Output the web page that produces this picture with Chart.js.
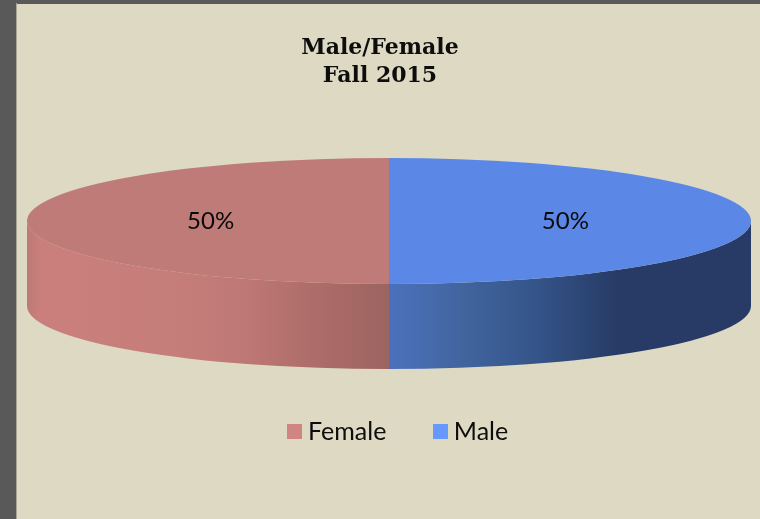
<!DOCTYPE html>
<html>
<head>
<meta charset="utf-8">
<style>html,body{margin:0;padding:0;background:#DDD9C3;overflow:hidden}canvas{display:block}</style>
<script src="https://cdn.jsdelivr.net/npm/chart.js@4/dist/chart.umd.js"></script>
</head>
<body>
<canvas id="c" width="760" height="519"></canvas>
<script>
const categories = ['Female', 'Male'];
const values = [50, 50];
const titleLines = ['Male/Female', 'Fall 2015'];
const topColors = ['#BF7B78', '#5B88E7'];
const legendColors = ['#D08583', '#6699FF'];
const wallStops = [
  [[0, '#BC7976'], [0.035, '#CA7F7C'], [0.4, '#C67E7A'], [0.6, '#BE7875'], [0.8, '#AD6C69'], [1, '#9C6460']],
  [[0, '#4B71BC'], [0.2, '#42659F'], [0.4, '#35558A'], [0.63, '#273B66'], [1, '#273B66']]
];
const SQUASH = 63 / 362, DEPTH = 85, LEGEND_GAP = 53;

function swatch(color) {
  const s = document.createElement('canvas');
  s.width = 15; s.height = 15;
  const g = s.getContext('2d');
  g.fillStyle = color; g.fillRect(0, 0, 15, 15);
  return s;
}

const pie3d = {
  id: 'pie3d',
  afterLayout(chart) {
    const a = chart.chartArea;
    a.left = 27; a.right = 751; a.top = 158; a.bottom = 284;
    a.width = 724; a.height = 126;
    const lg = chart.legend;
    const first = (lg.left + LEGEND_GAP + lg.right - lg.lineWidths[0]) / 2;
    const dx = 293.5 - first;
    lg.left += dx; lg.right += dx;
    lg.top = 419 - LEGEND_GAP; lg.bottom = lg.top + lg.height;
  },
  beforeDraw(chart) {
    const c = chart.ctx;
    c.save();
    c.fillStyle = '#595959';
    c.fillRect(0, 0, chart.width, chart.height);
    c.fillStyle = '#A8A697';
    c.fillRect(16, 3, 1, chart.height - 3);
    c.fillStyle = '#DDD9C3';
    c.fillRect(17, 4, chart.width - 17, chart.height - 4);
    c.restore();
  },
  beforeDatasetsDraw(chart) {
    const c = chart.ctx;
    const arcs = chart.getDatasetMeta(0).data;
    const cx = arcs[0].x, cy = arcs[0].y, rx = arcs[0].outerRadius, ry = rx * SQUASH;
    arcs.forEach((arc, i) => {
      [0, 2 * Math.PI].forEach(k => {
        const s = Math.max(arc.startAngle, k), e = Math.min(arc.endAngle, k + Math.PI);
        if (e <= s) return;
        const x0 = cx + rx * Math.cos(e), x1 = cx + rx * Math.cos(s);
        const g = c.createLinearGradient(x0, 0, x1, 0);
        const stops = wallStops[i];
        stops.forEach(st => g.addColorStop(st[0], st[1]));
        c.beginPath();
        c.ellipse(cx, cy, rx, ry, 0, s, e);
        c.ellipse(cx, cy + DEPTH, rx, ry, 0, e, s, true);
        c.closePath();
        c.fillStyle = g;
        c.fill();
      });
    });
    c.save();
    c.translate(cx, cy);
    c.scale(1, SQUASH);
    c.translate(-cx, -cy);
  },
  afterDatasetsDraw(chart) {
    const c = chart.ctx;
    c.restore();
    const arcs = chart.getDatasetMeta(0).data;
    const total = values.reduce((p, v) => p + v, 0);
    c.save();
    c.font = '24px Lato';
    c.fillStyle = '#0A0A0A';
    c.textAlign = 'center';
    c.textBaseline = 'middle';
    arcs.forEach((arc, i) => {
      const mid = (arc.startAngle + arc.endAngle) / 2;
      const r = arc.outerRadius * 0.49;
      c.fillText(Math.round(values[i] / total * 100) + '%',
        arc.x + r * Math.cos(mid) - 1, arc.y + r * SQUASH * Math.sin(mid));
    });
    c.restore();
  }
};

new Chart(document.getElementById('c'), {
  type: 'pie',
  data: {
    labels: categories,
    datasets: [{ data: values, backgroundColor: topColors, borderWidth: 0, radius: 362, clip: false }]
  },
  options: {
    responsive: false,
    animation: false,
    rotation: 180,
    layout: { padding: 0 },
    plugins: {
      tooltip: { enabled: false },
      title: {
        display: true,
        text: titleLines,
        color: '#0D0D0D',
        font: { family: '"DejaVu Serif"', size: 22, weight: 'bold', lineHeight: 28 / 22 },
        padding: { top: 34, bottom: 0 }
      },
      legend: {
        display: true,
        position: 'bottom',
        labels: {
          color: '#0D0D0D',
          font: { family: 'Lato', size: 25 },
          padding: LEGEND_GAP,
          boxHeight: 15,
          usePointStyle: true,
          pointStyleWidth: 2,
          generateLabels() {
            return categories.map((t, i) => ({ text: t, pointStyle: swatch(legendColors[i]), fontColor: '#0D0D0D', index: i, lineWidth: 0 }));
          }
        }
      }
    }
  },
  plugins: [pie3d]
});
</script>
</body>
</html>
